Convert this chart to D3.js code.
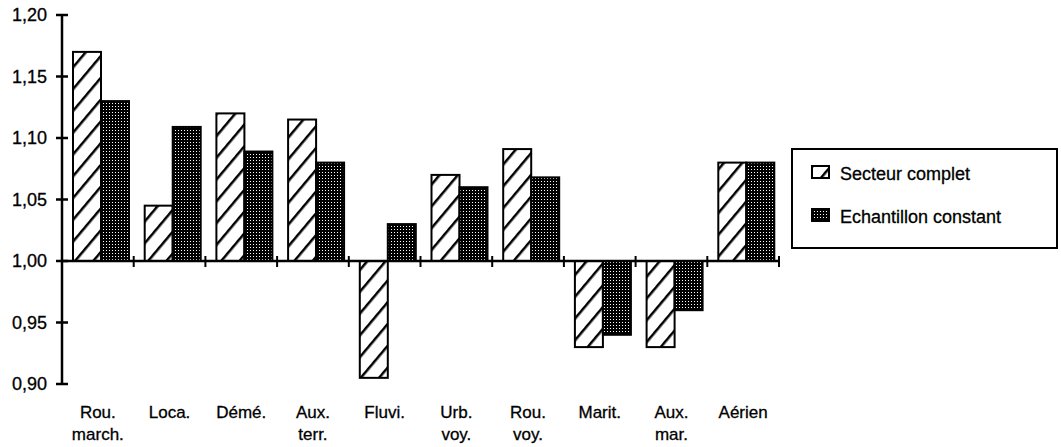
<!DOCTYPE html>
<html>
<head>
<meta charset="utf-8">
<script src="https://cdn.jsdelivr.net/npm/d3@7"></script>
<style>
  body { margin: 0; background: #fff; }
  text { font-family: "Liberation Sans", Arial, sans-serif; fill: #000; stroke: #000; stroke-width: 0.3px; }
</style>
</head>
<body>
<div id="chart"></div>
<script>
// data
const categories = [["Rou.", "march."], ["Loca."], ["Démé."], ["Aux.", "terr."], ["Fluvi."],
                    ["Urb.", "voy."], ["Rou.", "voy."], ["Marit."], ["Aux.", "mar."], ["Aérien"]];
const secteurComplet = [1.17, 1.045, 1.12, 1.115, 0.905, 1.07, 1.091, 0.93, 0.93, 1.08];
const echantillonConstant = [1.13, 1.109, 1.089, 1.08, 1.03, 1.06, 1.068, 0.94, 0.96, 1.08];
const seriesNames = ["Secteur complet", "Echantillon constant"];
const yTicks = [0.90, 0.95, 1.00, 1.05, 1.10, 1.15, 1.20];

let width = 1061, height = 447;

let svg = d3.select("#chart").append("svg")
    .attr("width", width)
    .attr("height", height);

// patterns
let defs = svg.append("defs");
let hatch = defs.append("pattern")
    .attr("id", "hatch")
    .attr("patternUnits", "userSpaceOnUse")
    .attr("width", 14).attr("height", 14)
    .attr("patternTransform", "rotate(40)");
hatch.append("rect").attr("width", 14).attr("height", 14).attr("fill", "#fff");
hatch.append("rect").attr("x", 0).attr("y", 0).attr("width", 2.5).attr("height", 14).attr("fill", "#000");

let dots = defs.append("pattern")
    .attr("id", "dots")
    .attr("patternUnits", "userSpaceOnUse")
    .attr("width", 3).attr("height", 3);
dots.append("rect").attr("width", 3).attr("height", 3).attr("fill", "#000");
dots.append("rect").attr("x", 1).attr("y", 1).attr("width", 1).attr("height", 1).attr("fill", "#fff");

// scales
let x = d3.scaleBand()
    .domain(d3.range(categories.length))
    .range([62, 779]);

let y = d3.scaleLinear()
    .domain([0.9, 1.2])
    .range([384, 15]);

let barW = 28;

// bars
let fills = ["url(#hatch)", "url(#dots)"];
[secteurComplet, echantillonConstant].forEach((vals, s) => {
    svg.append("g").selectAll("rect")
        .data(vals)
        .enter().append("rect")
        .attr("x", (d, i) => x(i) + 11 + s * barW)
        .attr("y", d => Math.min(y(d), y(1)))
        .attr("width", barW)
        .attr("height", d => Math.abs(y(d) - y(1)))
        .attr("fill", fills[s])
        .attr("stroke", "#000")
        .attr("stroke-width", 2);
});

// y axis
let yAxis = svg.append("g").attr("transform", "translate(62,0)");
yAxis.append("line")
    .attr("y1", y(1.2)).attr("y2", y(0.9))
    .attr("stroke", "#000").attr("stroke-width", 2.5);
yAxis.selectAll(".tk").data(yTicks).enter().append("line")
    .attr("x1", -6).attr("x2", 6)
    .attr("y1", d => y(d)).attr("y2", d => y(d))
    .attr("stroke", "#000").attr("stroke-width", 2.5);
yAxis.selectAll("text").data(yTicks).enter().append("text")
    .attr("x", -15)
    .attr("y", d => y(d) + 6)
    .attr("text-anchor", "end")
    .style("font-size", "18px")
    .text(d => d3.format(".2f")(d).replace(".", ","));

// x axis at 1,00
let xAxis = svg.append("g").attr("transform", `translate(0,${y(1)})`);
xAxis.append("line")
    .attr("x1", 62).attr("x2", 779)
    .attr("stroke", "#000").attr("stroke-width", 2.5);
xAxis.selectAll(".tk").data(d3.range(1, categories.length + 1)).enter().append("line")
    .attr("x1", d => x(d - 1) + x.bandwidth()).attr("x2", d => x(d - 1) + x.bandwidth())
    .attr("y1", -5).attr("y2", 6)
    .attr("stroke", "#000").attr("stroke-width", 2);

// category labels
let labels = svg.append("g");
categories.forEach((c, i) => {
    let t = labels.append("text")
        .attr("x", x(i) + x.bandwidth() / 2)
        .attr("y", 418)
        .attr("text-anchor", "middle")
        .style("font-size", "17px");
    c.forEach((line, j) => {
        t.append("tspan")
            .attr("x", x(i) + x.bandwidth() / 2)
            .attr("dy", j === 0 ? 0 : 22)
            .text(line);
    });
});

// legend
let legend = svg.append("g");
legend.append("rect")
    .attr("x", 792).attr("y", 149)
    .attr("width", 265).attr("height", 99)
    .attr("fill", "#fff")
    .attr("stroke", "#000").attr("stroke-width", 2);
seriesNames.forEach((name, i) => {
    legend.append("rect")
        .attr("x", 812).attr("y", 166 + i * 43)
        .attr("width", 17).attr("height", 12)
        .attr("fill", fills[i])
        .attr("stroke", "#000").attr("stroke-width", 2);
    legend.append("text")
        .attr("x", 840).attr("y", 180 + i * 43)
        .style("font-size", "18px")
        .text(name);
});
</script>
</body>
</html>
